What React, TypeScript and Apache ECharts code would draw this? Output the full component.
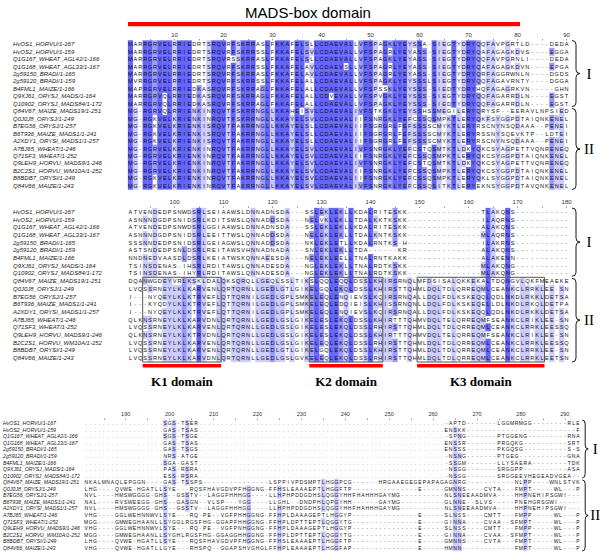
import React, { useEffect, useRef } from "react";
import * as echarts from "echarts";

const NAMES = [
  "HvOS1_HORVU/1-167",
  "HvOS2_HORVU/1-159",
  "Q1G167_WHEAT_AGL42/1-166",
  "Q1G168_WHEAT_AGL33/1-167",
  "2g59150_BRADI/1-165",
  "2g59120_BRADI/1-159",
  "B4FML1_MAIZE/1-166",
  "Q9XJ61_ORYSJ_MADS/1-164",
  "Q10902_ORYSJ_MADS84/1-172",
  "Q84V67_MAIZE_MADS19/1-251",
  "Q0J0J8_ORYSJ/1-249",
  "B7EG56_ORYSJ/1-257",
  "B6T936_MAIZE_MADS1/1-241",
  "A2XDY1_ORYSI_MADS1/1-257",
  "A7BJ65_WHEAT/1-246",
  "Q71SF3_WHEAT/1-252",
  "Q9LEH9_HORVU_MADS9/1-246",
  "B2C2S1_HORVU_WM10A/1-252",
  "B8BDB7_ORYSI/1-249",
  "Q84V66_MAIZE/1-243",
];

const GROUPS = [
  { label: "I", from: 0, to: 8 },
  { label: "II", from: 9, to: 19 },
];

const BLOCK_STARTS = [1, 91, 181];
const BLOCK_WIDTHS = [90, 90, 113];

const BLOCK1 = [
  "MARRGRVELRRIEDRTSRQVRFSKRRASLFKKAFE" + "LSLLCDAEVALLVFSPAGKLYEYSSA" + "-" + "SIEGTYDRYQQFAVPGRTLD" + "----DEDA",
  "MARRGRVELRRIEDRTSRQVRFSKRRSSLFKKAFE" + "LSVLCDAEVALLVFSPAGRLYEYASS" + "-" + "SIEGTYDRYQAFAGAGKDVS" + "----EGGA",
  "MARRGRVELRRIEDRTSRQVRSSKRRASLFKKAFE" + "LSLLCDAEVALLVFSPAGKLYEYASS" + "-" + "SIEGTYDRYQQFAVPGRNLI" + "----DEDA",
  "MARRGRVELRRIEDRTSRQVRFSKRRSSLFKKAFE" + "LAVLCDAEVSLLVFSPAGRLYEYASS" + "-" + "SIEGTYDRYQAFAGAGKDVN" + "----EPGA",
  "MARRGRVELRRIEDRTSRQVRFSKRRASLFKKAFE" + "LAVLCDAEVALLVFSPAGRLYEYASS" + "-" + "SIEGTYDRYQRFAGGRWNLN" + "----DGDS",
  "MVRRGRVELRRIEDRTSRQVRFSKRRSSLFKKAFE" + "LALLCDAEVALLVFSPAGKLYEYSSS" + "L" + "SIEGTYDRYQQFAGAVRNTY" + "----DGGA",
  "MAPRGRVELRRIEDKASRQVRFSKRRAGLFKKAFE" + "LALLCDAEVALLVFSPSSKLYEYSSS" + "-" + "SIEDTYDRYHQFAGAGRKVN" + "-----GHN",
  "MARRGRVQLRRIEDKASRQVRFSKRRAGLFKKAFE" + "LALLCDVEVALLVFSPVGKLYEYSSS" + "-" + "SIEGTYDRYQQFAGARRDLN" + "----EGST",
  "MARRGRVQLRRIEDKASRQVRFSKRRAGLFKKAFE" + "LALLCDAEVALLVFSPAGKLYEYSSS" + "-" + "SIEDTYDRYQQFAGARRDLN" + "----EGST",
  "MG-RGRVQLRRIENKINRQVTFSKRRNGLLKKAHE" + "ISVLCDAEVALIVFSTKGKLYEYSSH" + "S" + "SMEGILERYQRYSF--EERA" + "VLNPSIED",
  "MG-RGKVELKRIENKINRQVTFSKRRNGLLKKAYE" + "LSVLCDAEVALIIFSNRGKLYEFCSS" + "Q" + "SMPKTLERYQKFSYGGPDTA" + "IQNKENEL",
  "MG-RGKVELKRIENKISRQVTFAKRRNGLLKKAYE" + "LSLLCDAEVALIIFSGRGRLFEFSSS" + "S" + "CMYKTLERYRSCNYNSQDAA" + "A--PENEI",
  "MG-RGKVELKRIENKISRQVTFAKRRNGLLKKAYE" + "LSLLCDAEVALIIFSGRGRLFEFSSS" + "S" + "CMYKTLERYRSSNYSQEVKT" + "P--LDTEI",
  "MG-RGKVELKRIENKISRQVTFAKRRNGLLKKAYE" + "LSLLCDAEVALIIFSGRGRLFEFSSS" + "S" + "CMYKTLERYRSCNYNSQDAA" + "A--PENEI",
  "MG-RGRVELKRIENKINRQVTFAKRRNGLLKKAYE" + "LSVLCDAEVALIVFSNRGKLYEFCST" + "Q" + "SMTKTLDKYQKCSYAGPETT" + "VQNRENEQ",
  "MG-RGRVELKRIENKINRQVTFAKRRNGLLKKAYE" + "LSVLCDAEVALIIFSNRGKLYEFCSS" + "Q" + "SMPKTLERYQKCSYGGPDTA" + "IQNKENEL",
  "MG-RGRVELKRIENKINRQVTFAKRRNGLLKKAYE" + "LSVLCDAEVALIVFSNRGKLYEFCST" + "Q" + "SMTKTLDKYQKCSYAGPETT" + "VQNRENEQ",
  "MG-RGRVELKRIENKINRQVTFAKRRNGLLKKAYE" + "LSVLCDAEVALIIFSNRGKLYEFCSS" + "Q" + "SMPKTLERYQKCSYGGPDTA" + "IQNKENEL",
  "MG-RGKVELKRIENKINRQVTFAKRRNGLLKKAYE" + "LSVLCDAEVALIIFSNRGKLYEFCSS" + "Q" + "SMPKTLERYQKLSYGGPDTA" + "IQNKENEL",
  "MG-RGKVELKRIENKINRQVTFAKRRNGLLKKAYE" + "LSVLCDAEVALIVFSNRGKLYEFCSS" + "Q" + "SITKTLERYEKNSYGGPDTA" + "VQNKENEL",
];

const D15 = "---------------";
const D11 = "-----------";

const BLOCK2 = [
  "ATVENDEDPSNWDSRLSEIAAWSLDNNADNSDA---" + "SSLEKLEKLLKDALRITESKK" + D15 + "TLAKQNS" + D11,
  "ASNNNDGDPSNIDSRLKDITSWSLQNNADDSDA---" + "NELVKLEKLLTDALKKTKSKK" + D15 + "ILAQRNS" + D11,
  "ATVENDEDPSNWDSRLGGIAAWSLDNNADNSDA---" + "SSLEKLEKLLKDALRITESKK" + D15 + "ALAKQNS" + D11,
  "ASNNNDGDPSNIDSRLEEITTWSLQNNADDSDA---" + "NELEKLEKLLTDALKNTKSKK" + D15 + "MLAQRNS" + D11,
  "SSSNNDEDPSNIDSRLGEIAGWSLQNNADDSDA---" + "NKLEKLETLLKDALRNTKS-H" + D15 + "ILAKRNS" + D11,
  "ASTSNDEDPSNLDSRLREITAWSVHNNADNADA---" + "SNLEKLEKLLTDA------KR" + D15 + "ALAKQNS" + D11,
  "NNDNEDVAASDLDSRLKEIATWSKQNNAEESDA---" + "NELEKLEELLTNALRNTKAKK" + D15 + "ALAKENN" + D11,
  "TSINSDENAS-IHSRLRDITAWSLQNNADESDA---" + "NGLEKLEKLLTNALRDTKSKK" + D15 + "MLAKQNG" + D11,
  "TSINSDENAS-IHYRLRDITAWSLQNNADESDA---" + "NGLEKLEKLLTNALRDTKSKK" + D15 + "MLAKQNG" + D11,
  "DQANWGDEYVRLKSKLDALQKSQRQLLGEQLSSLTI" + "KSLQQLEQQLDSSLKHIRSRNQLMFDSISALQKKEKALTDQNGVLQKFMEAEKE",
  "LVQSSRNEYLKLKARVENLQRTQRNLLGEDLGTLGI" + "KELGQLEKQLDSSLKHIRSTTQHMLDQLTDLQRREQMLCEANKCLRRKLEE-SN",
  "I---NYQEYLKLKTRVEFLQTTQRNILGEDLGPLSM" + "KELEQLENQIEVSLKQIRSRNQALLDQLFDLKSKEQQLQDLNKDLRKKLDETSA",
  "I---KYQDYLKLKTRVEFLQTTQRNILGEDLGPLSM" + "KELEQLEDQIEISLKHISSRNQNLLDQLFDLKSKEQELLDLNKDLRKQLDETPA",
  "I---NYQEYLKLKTRVEFLQTTQRNILGEDLGPLSM" + "KELEQLENQIEVSLKQIRSRNQALLDQLFDLKSKEQQLQDLNKDLRKKLDETSA",
  "QLKNSRNEYLKLKARVDNLQRTQRNLLGEDLGSLGI" + "KELESLEKQLDSSLKHIRTTTQHMVDQLTELQRREQMFSEANKCLRIKLEE-SN",
  "LVQSSRNEYLKLKARVENLQRTQRNLLGEDLGSLGI" + "KELESLEKQLDSSLRHIRSTTQHMLDQLTDLQRREQMLCEANKCLRRKLEESSQ",
  "QLKNSRNEYLKLKTRVDNLQRTQRNLLGEDLGSLGI" + "KELESLEKQLDSSLKHIRTTTQHMVDQLTELQRREQMFSEANKCLRIKLEE-SN",
  "LVQSSRNEYLKLKARVENLQRTQRNLLGEDLGSLGI" + "KELEQLEKQLDSSLRHIRSTTQHMLDQLTDLQRREQMLCEANKCLRRKLEESSQ",
  "LVQSSRNEYLKLKARVENLQRTQRNLLGEDLGTLGI" + "KELGQLEKQLDSSLKHIRSTTQHMLDQLTDLQRREQMLCEANKCLRRKLEE-SN",
  "LVQSSRNEYLKLKARVDNLQRTQRNLLGEDLGSLGV" + "KELEQLEKQLDSSLRHIRSTTQHMLDQLTDLQRREQMLCEANKCLRRKLEETSN",
];

const DOTS18 = ".........." + "........";
const DOTS56 = ".........." + ".........." + ".........." + ".........." + ".........." + "......";
const TAIL_A = "AEPTLHGGFTP" + D15 + "E" + "-----" + "GMNNS" + "----" + "CVTA" + "---" + "FMPT" + "-----" + "WL" + "---" + "P";
const TAIL_B = "AGEPTLHGGYP" + D15 + "E" + "-----" + "SLNSS" + "----" + "CMTT" + "---" + "FMPP" + "-----" + "WL" + "---" + "P";
const TAIL_C = "TEPTLQGGYTG" + D15 + "E" + "-----" + "GINNA" + "----" + "CVAA" + "--S" + "FMPT" + "-----" + "WL" + "---" + "P";
const TAIL_D = "GDHSLQGGYHHFHAHHHGAYMG" + "----------" + "NLSNEEAADMVA" + "----" + "HHPNEHIPSGWI" + "---";

const BLOCK3 = [
  DOTS18 + "SGS-TSER" + DOTS56 + "-APTD" + "-------" + "LGGMRMGG" + "--------" + "RLE",
  DOTS18 + "GAS-TSAS" + DOTS56 + "ENSKK" + "-------" + "--------" + "--------" + "--F",
  DOTS18 + "SGS-TSGE" + DOTS56 + "-SPNG" + "-------" + "PTGGENG-" + "--------" + "RNA",
  DOTS18 + "GAS-TSAS" + DOTS56 + "ENSSR" + "-------" + "PRGQKG--" + "--------" + "SRT",
  DOTS18 + "GAS-TSGS" + DOTS56 + "ENSSS" + "-------" + "PKGQSG--" + "--------" + "S-S",
  DOTS18 + "NRS-ATGE" + DOTS56 + "-NSNG" + "-------" + "PTGEG---" + "--------" + "GNA",
  DOTS18 + "SGA-GAST" + DOTS56 + "-SSGM" + "-------" + "LLYSAERA" + "--------" + "TDK",
  DOTS18 + "PAS-RSRA" + DOTS56 + "-NSGG" + "-------" + "SRGGPP--" + "--------" + "ASA",
  DOTS18 + "ESS-RSRA" + DOTS56 + "-NSGG" + "-------" + "SRGGEEVH" + "EGEADVGE" + "A--",
  "NKALMNAQLEPGGN" + "----" + "GAS" + "-" + "TSSPS" + D15 + "LSPPIVPD" + "SMPTLHGGPCG" + "------" + "HRGAAEGEGEPAPAGAGNRG" + D11 + "NLPP" + "----" + "WNLSTVK",
  "LHG" + "----" + "QVWE" + "-" + "HGATLLSYE" + "---" + "RQSFHAVGDVPFHGGNG" + "-" + "FFHSLEAA" + TAIL_A,
  "NVL----HMSWGGGG" + "-" + "GHS" + "--" + "GSSTV" + "--" + "LAGGFHHHGG" + "----" + "LLHPHPDD" + TAIL_D,
  "NAL" + "----" + "RVSWEEGG" + "-" + "GHS" + "--" + "GASGN" + "--" + "VLSP---YGG" + "----" + "LLGHL--D" + "NDPHLQPGYHH" + "------" + "GAYMG" + "----------" + "GLNNE" + "--" + "SLVS" + "-----" + "PNEHGRSGWI" + "-----",
  "NVL----HMSWGGGG" + "-" + "GHS" + "--" + "GSSTV" + "--" + "LAGGFHHHGG" + "----" + "LLHPHPDD" + TAIL_D,
  "VHG" + "----" + "GGLW" + "E" + "HNNWVLSYE" + "---" + "RQ-PE--VGFPHHGGNG" + "-" + "FFHPLDAA" + TAIL_B,
  "MGG" + "----" + "GMWE" + "G" + "HAANLLSYG" + "GLR" + "GSFHG-GGAPFHHGGNG" + "-" + "FFHPLDPT" + TAIL_C,
  "VHG" + "----" + "GGLW" + "E" + "HNNWVLSYE" + "---" + "RQ-PE--VGFPNHGGNG" + "-" + "FFHPLDAA" + TAIL_B,
  "MGG" + "----" + "GMWE" + "G" + "HAANLLSYG" + "HLR" + "GSFHG-GGAGGHHGGNG" + "-" + "FFHPLDPT" + TAIL_C,
  "LHG" + "----" + "QVWE" + "-" + "HGATLLSYE" + "---" + "RQSFHAVGDVPFHGGNG" + "-" + "FFHSLEAA" + TAIL_A,
  "VHG" + "----" + "QVWE" + "-" + "HGATLLGYE" + "---" + "RHSPQ--GGAPSHVGHG" + "L" + "FFHPLEAA" + "AEPTLHGGFAP" + D15 + "E" + "-----" + "HMNN-" + "----" + "----" + "---" + "FMPT" + "-----" + "WL" + "---" + "P",
];

const DOMAINS = [
  { label: "MADS-box domain", block: 0, from: 1, to: 80, where: "top", boxFrom: 0, boxTo: 0 },
  { label: "K1 domain", block: 1, from: 94, to: 109, where: "bottom", boxFrom: 9, boxTo: 19 },
  { label: "K2 domain", block: 1, from: 128, to: 142, where: "bottom", boxFrom: 9, boxTo: 19 },
  { label: "K3 domain", block: 1, from: 150, to: 175, where: "bottom", boxFrom: 9, boxTo: 19 },
];

const SHADE_COLORS = ["#FFFFFF", "#CCCCFF", "#9999FF", "#6464FF"];

const GRIDS = [
  { left: 128, top: 40.5, width: 441, height: 149, cell: 5.6, name: 6, nameLeft: 13, ruler: 6, braceGap: 3, braceW: 8, labelOff: 17 },
  { left: 128, top: 208, width: 441, height: 154, cell: 5.6, name: 6, nameLeft: 13, ruler: 6, braceGap: 3, braceW: 8, labelOff: 17 },
  { left: 83, top: 420, width: 497.2, height: 131, cell: 5, name: 5.2, nameLeft: 2, ruler: 5.5, braceGap: 2, braceW: 6, labelOff: 13 },
];

function normalize(s: string, w: number): string {
  if (s.length >= w) return s.slice(0, w);
  return s + "-".repeat(w - s.length);
}

const isGap = (ch: string) => ch === "-" || ch === ".";

function pidLevels(seqs: string[]): number[][] {
  const n = seqs.length;
  const L = seqs[0].length;
  const levels = seqs.map(() => new Array(L).fill(0));
  for (let c = 0; c < L; c++) {
    const counts: Record<string, number> = {};
    for (const s of seqs) {
      const ch = s[c];
      if (!isGap(ch)) counts[ch] = (counts[ch] || 0) + 1;
    }
    let max = 0;
    for (const k in counts) max = Math.max(max, counts[k]);
    if (!max) continue;
    const pct = (max / n) * 100;
    const lvl = pct > 80 ? 3 : pct > 60 ? 2 : pct > 40 ? 1 : 0;
    if (!lvl) continue;
    seqs.forEach((s, r) => {
      if (!isGap(s[c]) && counts[s[c]] === max) levels[r][c] = lvl;
    });
  }
  return levels;
}

const ALIGN = [BLOCK1, BLOCK2, BLOCK3].map((b, i) => b.map((s) => normalize(s, BLOCK_WIDTHS[i])));
const LEVELS = ALIGN.map((b) => pidLevels(b));

function braceParts(x0: number, y0: number, y1: number, w: number) {
  const xm = x0 + w / 2;
  const ym = (y0 + y1) / 2;
  const r = Math.min(4, (y1 - y0) / 6);
  const st = { stroke: "#000", lineWidth: 0.9, fill: "none" };
  return [
    { type: "bezierCurve", shape: { x1: x0, y1: y0, x2: xm, y2: y0 + r, cpx1: xm, cpy1: y0 }, style: st },
    { type: "line", shape: { x1: xm, y1: y0 + r, x2: xm, y2: ym - r }, style: st },
    { type: "bezierCurve", shape: { x1: xm, y1: ym - r, x2: x0 + w, y2: ym, cpx1: xm, cpy1: ym }, style: st },
    { type: "bezierCurve", shape: { x1: x0 + w, y1: ym, x2: xm, y2: ym + r, cpx1: xm, cpy1: ym }, style: st },
    { type: "line", shape: { x1: xm, y1: ym + r, x2: xm, y2: y1 - r }, style: st },
    { type: "bezierCurve", shape: { x1: xm, y1: y1 - r, x2: x0, y2: y1, cpx1: xm, cpy1: y1 }, style: st },
  ];
}

const rowRenderer = (b: number) => (params: any, api: any) => {
  const r = api.value(1) as number;
  const seq = ALIGN[b][r];
  const lv = LEVELS[b][r];
  const sz = api.size([1, 1]) as number[];
  const children: any[] = [];
  const pts: number[][] = [];
  for (let c = 0; c < seq.length; c++) pts.push(api.coord([c, r]));
  for (let c = 0; c < seq.length; c++) {
    if (lv[c]) {
      const p = pts[c];
      children.push({
        type: "rect",
        shape: { x: p[0] - sz[0] / 2 - 0.15, y: p[1] - sz[1] / 2 - 0.15, width: sz[0] + 0.3, height: sz[1] + 0.3 },
        style: { fill: SHADE_COLORS[lv[c]] },
      });
    }
  }
  for (let c = 0; c < seq.length; c++) {
    const p = pts[c];
    const ch = seq[c];
    children.push({
      type: "text",
      style: {
        text: ch,
        x: p[0],
        y: p[1],
        align: "center",
        verticalAlign: "middle",
        fontSize: GRIDS[b].cell,
        fontFamily: "Liberation Sans",
        fill: isGap(ch) ? "#555" : "#111",
      },
    });
  }
  return { type: "group", children };
};

const decoRenderer = (b: number) => (params: any, api: any) => {
  const sz = api.size([1, 1]) as number[];
  const cw = sz[0];
  const rh = sz[1];
  const g = GRIDS[b];
  const start = BLOCK_STARTS[b];
  const W = BLOCK_WIDTHS[b];
  const children: any[] = [];
  const right = api.coord([W - 1, 0])[0] + cw / 2;
  const top = api.coord([0, 0])[1] - rh / 2;
  const bottom = api.coord([0, NAMES.length - 1])[1] + rh / 2;
  DOMAINS.filter((d) => d.block === b).forEach((d) => {
    const x0 = api.coord([d.from - start, 0])[0] - cw / 2;
    const x1 = api.coord([d.to - start, 0])[0] + cw / 2;
    if (d.where === "top") {
      children.push({ type: "rect", shape: { x: x0, y: top - 18.5, width: x1 - x0, height: 4.2 }, style: { fill: "#FF0000" } });
      children.push({
        type: "text",
        style: { text: d.label, x: (x0 + x1) / 2 - 16, y: top - 28.5, align: "center", verticalAlign: "middle", fontSize: 15, fontFamily: "Liberation Sans", fill: "#000" },
      });
    } else {
      const yb0 = api.coord([0, d.boxFrom])[1] - rh / 2;
      const yb1 = api.coord([0, d.boxTo])[1] + rh / 2;
      children.push({ type: "rect", shape: { x: x0, y: yb0, width: x1 - x0, height: yb1 - yb0 }, style: { fill: "none", stroke: "#555", lineWidth: 1 } });
      children.push({ type: "rect", shape: { x: x0, y: bottom + 2, width: x1 - x0, height: 3.4 }, style: { fill: "#FF0000" } });
      children.push({
        type: "text",
        style: { text: d.label, x: (x0 + x1) / 2, y: bottom + 19, align: "center", verticalAlign: "middle", fontSize: 13, fontWeight: "bold", fontFamily: "Liberation Serif", fill: "#000" },
      });
    }
  });
  GROUPS.forEach((grp, gi) => {
    const y0 = api.coord([0, grp.from])[1] - rh / 2 + (gi === 0 ? 0 : 1);
    const y1 = api.coord([0, grp.to])[1] + rh / 2 - (gi === 0 ? 1 : 0);
    const bx = right + g.braceGap;
    braceParts(bx, y0, y1, g.braceW).forEach((p) => children.push(p));
    children.push({
      type: "text",
      style: { text: grp.label, x: bx + g.labelOff, y: (y0 + y1) / 2, align: "center", verticalAlign: "middle", fontSize: 15, fontFamily: "Liberation Serif", fill: "#000" },
    });
  });
  return { type: "group", children };
};

export default function App() {
  const ref = useRef<HTMLDivElement>(null);
  useEffect(() => {
    if (!ref.current) return;
    const chart = echarts.init(ref.current, undefined, { renderer: "svg" });
    const grid = GRIDS.map((g) => ({ left: g.left, top: g.top, width: g.width, height: g.height, containLabel: false }));
    const xAxis = GRIDS.map((g, i) => ({
      type: "category",
      gridIndex: i,
      position: "top",
      data: Array.from({ length: BLOCK_WIDTHS[i] }, (_, k) => String(BLOCK_STARTS[i] + k)),
      axisLine: { show: false },
      axisTick: {
        show: true,
        alignWithLabel: true,
        interval: (_idx: number, val: string) => Number(val) % 5 === 0,
        length: 1.5,
        lineStyle: { color: "#555", width: 0.6 },
      },
      axisLabel: {
        interval: (_idx: number, val: string) => Number(val) % 10 === 0,
        fontSize: g.ruler,
        color: "#333",
        fontFamily: "Liberation Sans",
        margin: 3,
      },
      splitLine: { show: false },
    }));
    const yAxis = GRIDS.map((g, i) => ({
      type: "category",
      gridIndex: i,
      inverse: true,
      data: NAMES,
      axisLine: { show: false },
      axisTick: { show: false },
      axisLabel: {
        interval: 0,
        align: "left",
        margin: g.left - g.nameLeft,
        fontSize: g.name,
        fontStyle: "italic",
        fontFamily: "Liberation Sans",
        color: "#222",
      },
      splitLine: { show: false },
    }));
    const series: any[] = [];
    GRIDS.forEach((_g, i) => {
      series.push({
        type: "custom",
        xAxisIndex: i,
        yAxisIndex: i,
        silent: true,
        clip: false,
        data: NAMES.map((_, r) => [0, r]),
        renderItem: rowRenderer(i),
      });
      series.push({
        type: "custom",
        xAxisIndex: i,
        yAxisIndex: i,
        silent: true,
        clip: false,
        data: [[0, 0]],
        renderItem: decoRenderer(i),
      });
    });
    chart.setOption({
      animation: false,
      backgroundColor: "#ffffff",
      grid,
      xAxis,
      yAxis,
      series,
    });
    return () => chart.dispose();
  }, []);
  return <div ref={ref} style={{ position: "absolute", left: 0, top: 0, width: 600, height: 552 }} />;
}
